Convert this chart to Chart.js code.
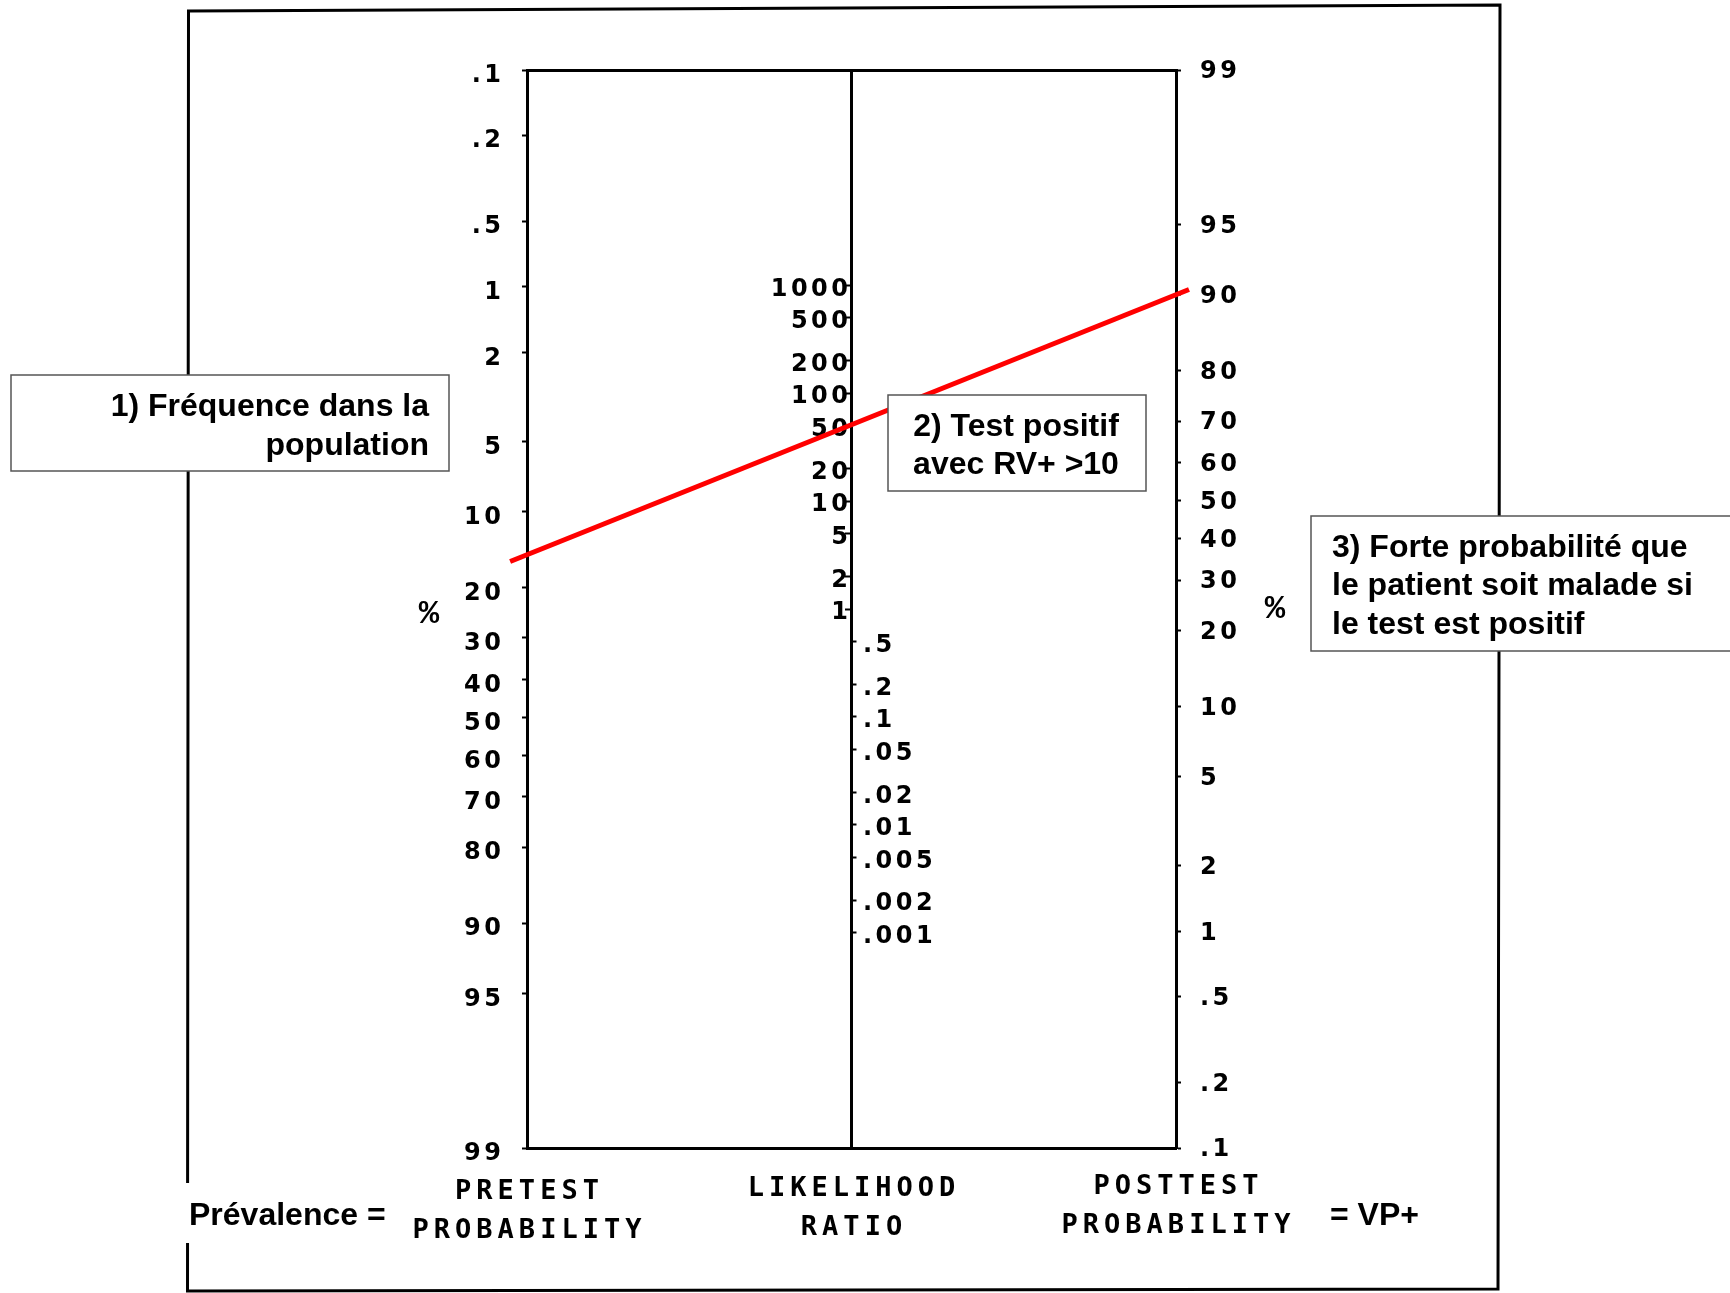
<!DOCTYPE html>
<html lang="fr">
<head>
<meta charset="utf-8">
<title>Nomogramme de Fagan</title>
<script src="https://cdn.jsdelivr.net/npm/chart.js@4.4.1/dist/chart.umd.min.js"></script>
<style>
  html, body { margin: 0; padding: 0; background: #fff; }
  #wrap { width: 1730px; height: 1293px; }
  canvas { display: block; }
</style>
</head>
<body>
<div id="wrap"><canvas id="nomogram" width="1730" height="1293"></canvas></div>
<script>
// Fagan nomogram: pretest probability (left), likelihood ratio (middle), posttest probability (right)

// Tick values (percent for the probability axes, ratio for the middle axis)
const PRETEST_TICKS = [0.1, 0.2, 0.5, 1, 2, 5, 10, 20, 30, 40, 50, 60, 70, 80, 90, 95, 99];
const POSTTEST_TICKS = [99, 95, 90, 80, 70, 60, 50, 40, 30, 20, 10, 5, 2, 1, 0.5, 0.2, 0.1];
const LR_TICKS_ABOVE_ONE = [1000, 500, 200, 100, 50, 20, 10, 5, 2, 1];
const LR_TICKS_BELOW_ONE = [0.5, 0.2, 0.1, 0.05, 0.02, 0.01, 0.005, 0.002, 0.001];

// Tick labels, written the way the plotter prints them (".1" rather than "0.1")
const fmt = v => String(v).replace(/^0\./, '.');
const PRETEST_LABELS = PRETEST_TICKS.map(fmt);
const POSTTEST_LABELS = POSTTEST_TICKS.map(fmt);
const LR_LABELS_ABOVE_ONE = LR_TICKS_ABOVE_ONE.map(fmt);
const LR_LABELS_BELOW_ONE = LR_TICKS_BELOW_ONE.map(fmt);

// Range of both probability axes, in percent
const PROB_MIN = 0.1;
const PROB_MAX = 99;

// Worked example: prevalence and resulting posttest probability (percent)
const PRETEST_PCT = 15;
const POSTTEST_PCT = 90;

const AXIS_TITLES = [['PRETEST', 'PROBABILITY'], ['LIKELIHOOD', 'RATIO'], ['POSTTEST', 'PROBABILITY']];
const NOTE_PREVALENCE = ['1) Fréquence dans la', 'population'];
const NOTE_TEST = ['2) Test positif', 'avec RV+ >10'];
const NOTE_RESULT = ['3) Forte probabilité que', 'le patient soit malade si', 'le test est positif'];
const LABEL_LEFT = 'Prévalence =';
const LABEL_RIGHT = '= VP+';

// ---- scale geometry -------------------------------------------------------
const logit = p => Math.log(p / (1 - p));
const TOP_L = logit(PROB_MIN / 100);   // value at the top of the left axis
const TOP_R = logit(PROB_MAX / 100);   // value at the top of the right axis
const LR_SPAN = Math.exp(TOP_R - TOP_L); // middle axis covers 1/LR_SPAN .. LR_SPAN

// A pretest logit read on the left axis, expressed in right-axis units (same height)
const leftOnRight = v => TOP_R + TOP_L - v;

const lineA = leftOnRight(logit(PRETEST_PCT / 100));
const lineB = logit(POSTTEST_PCT / 100);
// the ruled line runs slightly past both outer axes
const OVER_L = 0.026, OVER_R = 0.02;
const ruleData = [
  { x: -OVER_L, y: lineA - OVER_L * (lineB - lineA) },
  { x: 1 + OVER_R, y: lineB + OVER_R * (lineB - lineA) }
];

const PLOT_FONT = '"DejaVu Sans Mono", "Liberation Mono", monospace';
const NOTE_FONT = 'bold 32px "Liberation Sans", Arial, sans-serif';

const tickFont = { family: '"DejaVu Sans", sans-serif', size: 24, weight: 'bold' };
const axisGrid = { display: true, drawOnChartArea: false, drawTicks: true, tickLength: 5, tickWidth: 2, color: '#000' };
const axisBorder = { display: true, width: 3, color: '#000' };

function fixedTicks(values) {
  return scale => { scale.ticks = values.map(v => ({ value: v })); };
}

const paper = {
  id: 'paper',
  beforeDraw(chart) {
    const ctx = chart.ctx;
    ctx.save();
    ctx.fillStyle = '#fff';
    ctx.fillRect(0, 0, chart.width, chart.height);
    // outer frame of the page
    ctx.strokeStyle = '#000';
    ctx.lineWidth = 3;
    ctx.beginPath();
    ctx.moveTo(188.5, 11);
    ctx.lineTo(1500, 5);
    ctx.lineTo(1498, 1289);
    ctx.lineTo(187.5, 1291);
    ctx.closePath();
    ctx.stroke();
    ctx.restore();
    // wide plotter-style spacing for the tick labels
    ctx.letterSpacing = '3.5px';
  },
  afterLayout(chart) {
    // labels below LR = 1 sit on the right-hand side of the middle axis
    const s = chart.scales.yM2;
    const x = chart.scales.x.getPixelForValue(0.5);
    s.left = x;
    s.right = x + 150;
  },
  afterDraw(chart) {
    const { ctx, scales } = chart;
    ctx.save();
    ctx.fillStyle = '#000';
    ctx.textBaseline = 'middle';

    // axis titles under each scale
    ctx.font = 'bold 27px ' + PLOT_FONT;
    ctx.letterSpacing = '5px';
    ctx.textAlign = 'center';
    const titleY = [1192, 1189, 1187];
    [0, 0.5, 1].forEach((v, i) => {
      const x = scales.x.getPixelForValue(v) + 2.5;
      AXIS_TITLES[i].forEach((t, j) => ctx.fillText(t, x, titleY[i] + j * 39));
    });

    // percent signs beside both probability axes
    ctx.letterSpacing = '0px';
    ctx.font = 'bold 34px "Liberation Mono", "DejaVu Sans Mono", monospace';
    ctx.fillText('%', 429, 614);
    ctx.fillText('%', 1275, 609);

    // explanatory notes
    ctx.font = NOTE_FONT;
    const note = (box, lines, align, tx, ty, lh) => {
      ctx.fillStyle = '#fff';
      ctx.fillRect(box[0], box[1], box[2] - box[0], box[3] - box[1]);
      ctx.strokeStyle = '#555';
      ctx.lineWidth = 1.5;
      ctx.strokeRect(box[0], box[1], box[2] - box[0], box[3] - box[1]);
      ctx.fillStyle = '#000';
      ctx.textAlign = align;
      lines.forEach((t, i) => ctx.fillText(t, tx, ty + i * lh));
    };
    note([11, 375, 449, 471], NOTE_PREVALENCE, 'right', 429, 407, 39);
    note([888, 395, 1146, 491], NOTE_TEST, 'center', 1016, 427, 38.5);
    note([1311, 516, 1760, 651], NOTE_RESULT, 'left', 1332, 548, 38.5);

    ctx.fillStyle = '#fff';
    ctx.fillRect(180, 1183, 214, 60);
    ctx.fillStyle = '#000';
    ctx.textAlign = 'left';
    ctx.fillText(LABEL_LEFT, 189, 1216);
    ctx.fillText(LABEL_RIGHT, 1330, 1216);
    ctx.restore();
  }
};

new Chart(document.getElementById('nomogram'), {
  type: 'scatter',
  data: {
    datasets: [{
      data: ruleData,
      xAxisID: 'x',
      yAxisID: 'yR',
      showLine: true,
      borderColor: '#ff0000',
      borderWidth: 5,
      pointRadius: 0,
      clip: false
    }]
  },
  options: {
    responsive: false,
    devicePixelRatio: 1,
    animation: false,
    events: [],
    layout: { padding: { left: 427, right: 454, top: 70, bottom: 145 } },
    plugins: { legend: { display: false }, tooltip: { enabled: false } },
    scales: {
      x: {
        type: 'linear', position: 'bottom', min: 0, max: 1,
        ticks: { display: false },
        grid: { display: false, drawTicks: false },
        border: axisBorder,
        afterFit: s => { s.height = 0; }
      },
      xTop: {
        type: 'linear', axis: 'x', position: 'top', min: 0, max: 1,
        ticks: { display: false },
        grid: { display: false, drawTicks: false },
        border: axisBorder,
        afterFit: s => { s.height = 0; }
      },
      yL: {
        type: 'linear', axis: 'y', position: 'left', reverse: true, bounds: 'data',
        min: TOP_L, max: TOP_R,
        afterBuildTicks: fixedTicks(PRETEST_TICKS.map(p => logit(p / 100))),
        ticks: { autoSkip: false, font: tickFont, color: '#000', padding: 17.5, labelOffset: 6,
                 callback: (v, i) => PRETEST_LABELS[i] },
        grid: axisGrid, border: axisBorder,
        afterFit: s => { s.width = 100; }
      },
      yR: {
        type: 'linear', axis: 'y', position: 'right', bounds: 'data',
        min: TOP_L, max: TOP_R,
        afterBuildTicks: fixedTicks(POSTTEST_TICKS.map(p => logit(p / 100))),
        ticks: { autoSkip: false, font: tickFont, color: '#000', padding: 19, labelOffset: 2,
                 callback: (v, i) => POSTTEST_LABELS[i] },
        grid: axisGrid, border: axisBorder,
        afterFit: s => { s.width = 100; }
      },
      yM: {
        type: 'logarithmic', axis: 'y', position: { x: 0.5 }, bounds: 'data',
        min: 1 / LR_SPAN, max: LR_SPAN,
        afterBuildTicks: fixedTicks(LR_TICKS_ABOVE_ONE),
        ticks: { autoSkip: false, font: tickFont, color: '#000', padding: -6.5, labelOffset: 4,
                 callback: (v, i) => LR_LABELS_ABOVE_ONE[i] },
        grid: axisGrid, border: axisBorder
      },
      yM2: {
        type: 'logarithmic', axis: 'y', position: 'right', bounds: 'data',
        min: 1 / LR_SPAN, max: LR_SPAN,
        afterBuildTicks: fixedTicks(LR_TICKS_BELOW_ONE),
        ticks: { autoSkip: false, font: tickFont, color: '#000', padding: 6.5, labelOffset: 4,
                 callback: (v, i) => LR_LABELS_BELOW_ONE[i] },
        grid: axisGrid, border: { display: false },
        afterFit: s => { s.width = 0; }
      }
    }
  },
  plugins: [paper]
});
</script>
</body>
</html>
